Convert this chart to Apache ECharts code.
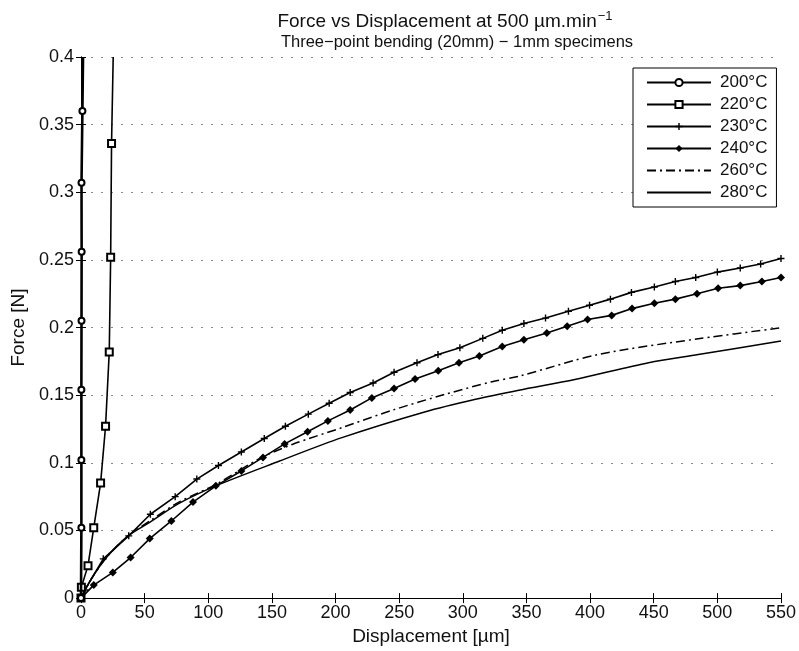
<!DOCTYPE html>
<html>
<head>
<meta charset="utf-8">
<script src="https://cdn.jsdelivr.net/npm/echarts@6/dist/echarts.min.js"></script>
<style>
html,body{margin:0;padding:0;background:#fff;}
#chart{width:799px;height:651px;}
</style>
</head>
<body>
<div id="chart"></div>
<script>
// ---- data ----
var seriesNames = ['200°C', '220°C', '230°C', '240°C', '260°C', '280°C'];

var s200x = [0, 0.3, 0.3, 0.3, 0.4, 0.5, 0.4, 1.1, 1.6];
var s200y = [0, 0.052, 0.102, 0.154, 0.205, 0.256, 0.307, 0.36, 0.4];

var s220x = [0, 0.3, 5.5, 10, 15.4, 19.3, 22.2, 23.3, 24, 25.3];
var s220y = [0, 0.008, 0.024, 0.052, 0.085, 0.127, 0.182, 0.252, 0.336, 0.4];

var s230x = [0, 3, 17.5, 37.5, 54.5, 74, 91, 108, 126, 144, 160.6, 178.6, 195, 211.5, 229.5, 246, 264, 280.5, 297.7, 315.7, 331, 348, 365, 383, 399.6, 416, 432.5, 450.5, 467, 483, 500, 518, 534, 550];
var s230y = [0, 0.006, 0.029, 0.046, 0.062, 0.075, 0.088, 0.098, 0.108, 0.118, 0.127, 0.136, 0.144, 0.152, 0.159, 0.167, 0.174, 0.180, 0.185, 0.192, 0.198, 0.203, 0.207, 0.212, 0.2165, 0.221, 0.226, 0.230, 0.234, 0.237, 0.241, 0.244, 0.247, 0.251];

var s240x = [0, 10, 25, 39, 54, 71, 88, 106, 126, 143, 160, 178, 194, 211.5, 228.5, 246, 262.5, 280.7, 297, 313, 331, 348, 366, 382, 398, 417, 433, 450.5, 467, 484, 500.6, 518, 535, 550];
var s240y = [0, 0.0096, 0.019, 0.03, 0.044, 0.057, 0.071, 0.083, 0.094, 0.104, 0.114, 0.123, 0.131, 0.139, 0.148, 0.155, 0.162, 0.168, 0.174, 0.179, 0.186, 0.191, 0.196, 0.201, 0.206, 0.209, 0.214, 0.218, 0.221, 0.225, 0.229, 0.231, 0.234, 0.237];

var s260x = [0, 8, 20, 37, 54, 77, 106, 140, 166, 205, 245, 286, 323, 344, 406, 485, 550];
var s260y = [0, 0.014, 0.030, 0.046, 0.057, 0.071, 0.084, 0.103, 0.1136, 0.126, 0.139, 0.1506, 0.160, 0.164, 0.180, 0.1917, 0.1998];

var s280x = [0, 8, 20, 37, 54, 77, 106, 156, 205, 270, 310, 344, 388, 446, 485, 550];
var s280y = [0, 0.014, 0.030, 0.046, 0.056, 0.070, 0.083, 0.1013, 0.1186, 0.1376, 0.147, 0.1537, 0.1616, 0.174, 0.180, 0.190];

var xTicks = {min: 0, max: 550, step: 50};
var yTicks = {min: 0, max: 0.4, step: 0.05};

// ---- build ----
function zip(xs, ys) {
  var out = [];
  for (var i = 0; i < xs.length; i++) out.push([xs[i], ys[i]]);
  return out;
}
function lastNoSymbol(arr) {
  var d = arr.slice();
  var last = d[d.length - 1];
  d[d.length - 1] = {value: last, symbol: 'none'};
  return d;
}

var FONT = '"Liberation Sans", Arial, sans-serif';
var plusPath = 'path://M4,0H6V4H10V6H6V10H4V6H0V4H4Z';

var chart = echarts.init(document.getElementById('chart'), null, {renderer: 'canvas'});

var fmtY = function (v) { return String(parseFloat(v.toFixed(2))); };

var legendData = seriesNames.map(function (n, i) {
  return i >= 4 ? {name: n, itemStyle: {opacity: 0}} : {name: n};
});

var option = {
  backgroundColor: '#fff',
  animation: false,
  textStyle: {fontFamily: FONT},
  title: [
    {
      text: 'Force vs Displacement at 500 \u00b5m.min{sup|\u22121}',
      left: 440, top: 5, textAlign: 'center',
      textStyle: {
        fontFamily: FONT, fontSize: 19, fontWeight: 'normal', color: '#111',
        rich: {
          sup: {fontFamily: FONT, fontSize: 13, color: '#111', padding: [0, 0, 11, 1]}
        }
      }
    },
    {
      text: 'Three\u2212point bending (20mm) \u2212 1mm specimens',
      left: 452, top: 29, textAlign: 'center',
      textStyle: {fontFamily: FONT, fontSize: 16.5, fontWeight: 'normal', color: '#111'}
    }
  ],
  grid: {left: 81, right: 16, top: 57, bottom: 52, containLabel: false},
  legend: {
    orient: 'vertical',
    left: 633, top: 68,
    data: legendData,
    backgroundColor: '#fff',
    borderColor: '#000', borderWidth: 1,
    padding: [6, 9, 6, 13],
    itemWidth: 64, itemHeight: 9, itemGap: 5,
    textStyle: {fontFamily: FONT, fontSize: 17, lineHeight: 17, color: '#111', padding: [0, 0, 0, 4]}
  },
  xAxis: [
    {
      type: 'value', position: 'bottom',
      min: xTicks.min, max: xTicks.max, interval: xTicks.step,
      name: 'Displacement [\u00b5m]', nameLocation: 'middle', nameGap: 27,
      nameTextStyle: {fontFamily: FONT, fontSize: 19, color: '#111'},
      axisLine: {show: true, lineStyle: {color: '#000', width: 1}},
      axisTick: {show: true, inside: true, length: 5, lineStyle: {color: '#000'}},
      axisLabel: {fontFamily: FONT, fontSize: 18, color: '#111', margin: 6},
      splitLine: {show: false}
    },
    {
      type: 'value', position: 'top',
      min: xTicks.min, max: xTicks.max, interval: xTicks.step,
      axisLine: {show: true, lineStyle: {color: '#000', width: 1}},
      axisTick: {show: true, inside: true, length: 5, lineStyle: {color: '#000'}},
      axisLabel: {show: false},
      splitLine: {show: false}
    }
  ],
  yAxis: [
    {
      type: 'value', position: 'left',
      min: yTicks.min, max: yTicks.max, interval: yTicks.step,
      name: 'Force [N]', nameLocation: 'middle', nameGap: 50,
      nameTextStyle: {fontFamily: FONT, fontSize: 19, color: '#111'},
      axisLine: {show: true, lineStyle: {color: '#000', width: 1}},
      axisTick: {show: true, inside: true, length: 5, lineStyle: {color: '#000'}},
      axisLabel: {fontFamily: FONT, fontSize: 18, color: '#111', margin: 7, formatter: fmtY},
      splitLine: {show: true, lineStyle: {color: '#888', width: 1, type: [2, 8]}}
    },
    {
      type: 'value', position: 'right',
      min: yTicks.min, max: yTicks.max, interval: yTicks.step,
      axisLine: {show: true, lineStyle: {color: '#000', width: 1}},
      axisTick: {show: true, inside: true, length: 5, lineStyle: {color: '#000'}},
      axisLabel: {show: false},
      splitLine: {show: false}
    }
  ],
  series: [
    {
      name: seriesNames[0], type: 'line', data: lastNoSymbol(zip(s200x, s200y)),
      symbol: 'emptyCircle', symbolSize: 6, showAllSymbol: true,
      lineStyle: {color: '#000', width: 2.6},
      itemStyle: {color: '#000', borderColor: '#000', borderWidth: 1.4},
      z: 6
    },
    {
      name: seriesNames[1], type: 'line', data: lastNoSymbol(zip(s220x, s220y)),
      symbol: 'emptyRect', symbolSize: 7, showAllSymbol: true,
      lineStyle: {color: '#000', width: 1.6},
      itemStyle: {color: '#000', borderColor: '#000', borderWidth: 2},
      z: 5
    },
    {
      name: seriesNames[2], type: 'line', data: zip(s230x, s230y),
      symbol: plusPath, symbolSize: 7, showAllSymbol: true,
      lineStyle: {color: '#000', width: 1.6},
      itemStyle: {color: '#000', borderWidth: 0},
      z: 4
    },
    {
      name: seriesNames[3], type: 'line', data: zip(s240x, s240y),
      symbol: 'diamond', symbolSize: 8, showAllSymbol: true,
      lineStyle: {color: '#000', width: 1.6},
      itemStyle: {color: '#000', borderWidth: 0},
      z: 4
    },
    {
      name: seriesNames[4], type: 'line', data: zip(s260x, s260y),
      symbol: 'none', smooth: 0.3,
      lineStyle: {color: '#000', width: 1.5, type: [9, 4, 2, 4]},
      itemStyle: {color: '#000'},
      z: 3
    },
    {
      name: seriesNames[5], type: 'line', data: zip(s280x, s280y),
      symbol: 'none', smooth: 0.3,
      lineStyle: {color: '#000', width: 1.5},
      itemStyle: {color: '#000'},
      z: 3
    }
  ]
};
chart.setOption(option);
</script>
</body>
</html>
